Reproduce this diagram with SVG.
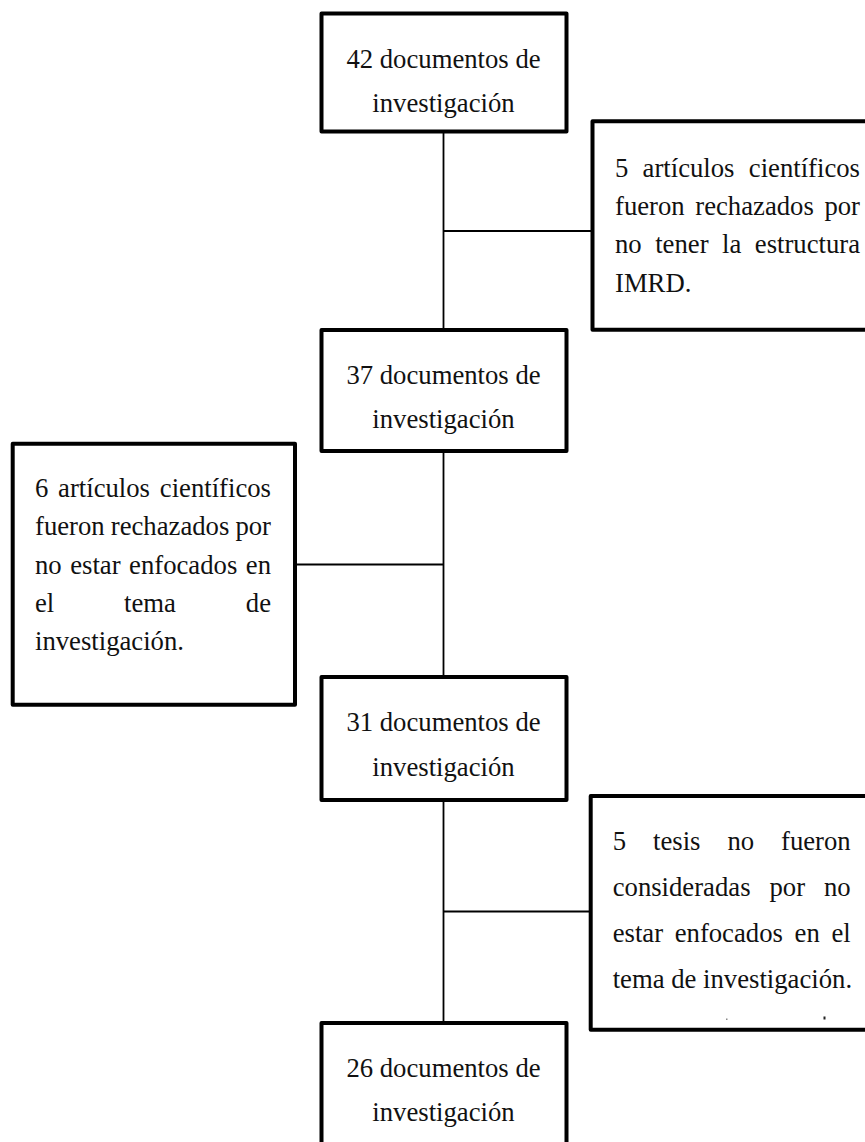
<svg xmlns="http://www.w3.org/2000/svg" width="865" height="1142" viewBox="0 0 865 1142">
<style>
.box{fill:#fff;stroke:#000;stroke-width:4;stroke-linejoin:round}
.con{stroke:#000;stroke-width:1.8;fill:none}
text{font-family:"Liberation Serif","Times New Roman",serif;font-size:26.7px;fill:#111}
.c{text-anchor:middle}
.e{text-anchor:end}
</style>
<rect width="865" height="1142" fill="#fff"/>
<g id="connectors">
<line class="con" x1="443.5" y1="133" x2="443.5" y2="1023"/>
<line class="con" x1="443.5" y1="231" x2="592" y2="231"/>
<line class="con" x1="297" y1="564.5" x2="443.5" y2="564.5"/>
<line class="con" x1="443.5" y1="911.5" x2="591" y2="911.5"/>
</g>
<g id="n42">
<rect class="box" x="321.5" y="13.5" width="245" height="118"/>
<text class="c" x="443.5" y="68">42 documentos de</text>
<text class="c" x="443.5" y="112">investigación</text>
</g>
<g id="r1">
<rect class="box" x="592.5" y="121.3" width="300" height="208.4"/>
<text x="615" y="176.7">5</text>
<text x="642.6" y="176.7">artículos</text>
<text class="e" x="860" y="176.7">científicos</text>
<text x="615" y="215">fueron</text>
<text x="695.3" y="215">rechazados</text>
<text class="e" x="860" y="215">por</text>
<text x="615" y="253.3">no</text>
<text x="655.2" y="253.3">tener</text>
<text x="722" y="253.3">la</text>
<text class="e" x="860" y="253.3">estructura</text>
<text x="615" y="291.7">IMRD.</text>
</g>
<g id="n37">
<rect class="box" x="321.5" y="330" width="245" height="121"/>
<text class="c" x="443.5" y="384">37 documentos de</text>
<text class="c" x="443.5" y="428">investigación</text>
</g>
<g id="l1">
<rect class="box" x="12.7" y="443.7" width="282.3" height="261"/>
<text x="35" y="497">6</text>
<text x="58.1" y="497">artículos</text>
<text class="e" x="271" y="497">científicos</text>
<text x="35" y="535.3">fueron</text>
<text x="110.8" y="535.3">rechazados</text>
<text class="e" x="271" y="535.3">por</text>
<text x="35" y="573.6">no</text>
<text x="70.2" y="573.6">estar</text>
<text x="129.1" y="573.6">enfocados</text>
<text class="e" x="271" y="573.6">en</text>
<text x="35" y="612">el</text>
<text x="124.1" y="612">tema</text>
<text class="e" x="271" y="612">de</text>
<text x="35" y="650.3">investigación.</text>
</g>
<g id="n31">
<rect class="box" x="321.5" y="677" width="245" height="123"/>
<text class="c" x="443.5" y="731">31 documentos de</text>
<text class="c" x="443.5" y="776">investigación</text>
</g>
<g id="r2">
<rect class="box" x="590.7" y="796" width="300" height="233.7"/>
<text x="612.7" y="850">5</text>
<text x="653" y="850">tesis</text>
<text x="727.4" y="850">no</text>
<text class="e" x="850.7" y="850">fueron</text>
<text x="612.7" y="896">consideradas</text>
<text x="769.5" y="896">por</text>
<text class="e" x="850.7" y="896">no</text>
<text x="612.7" y="941.7">estar</text>
<text x="674.7" y="941.7">enfocados</text>
<text x="794.6" y="941.7">en</text>
<text class="e" x="850.7" y="941.7">el</text>
<text x="612.7" y="987.5">tema de investigación.</text>
<rect x="726" y="1018.5" width="1.5" height="1.5" fill="#888"/>
<rect x="823.5" y="1016.5" width="2" height="3" fill="#222"/>
</g>
<g id="n26">
<rect class="box" x="321.5" y="1023" width="245" height="200"/>
<text class="c" x="443.5" y="1077">26 documentos de</text>
<text class="c" x="443.5" y="1121">investigación</text>
</g>
</svg>
